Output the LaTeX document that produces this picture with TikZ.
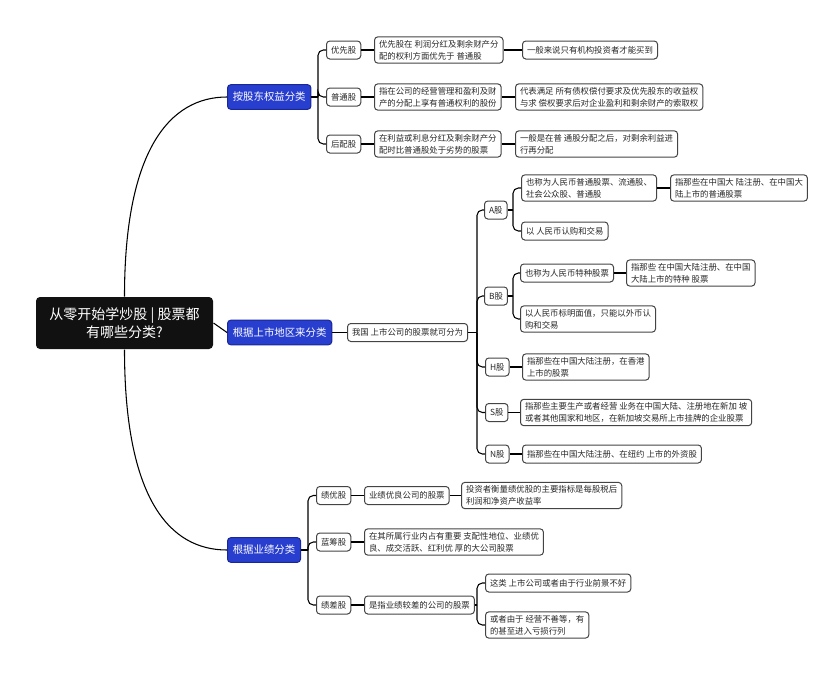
\documentclass[tikz,border=0pt]{standalone}
\usepackage{fontspec}
\setmainfont{Noto Sans CJK SC}

\tikzset{every picture/.style={line width=0.75pt}}
\tikzset{
  leaf/.style={draw={rgb, 255:red, 68; green, 68; blue, 68}, rounded corners=2.5pt, fill=white,
    text={rgb, 255:red, 40; green, 40; blue, 40}, font=\fontsize{6.3}{9}\selectfont,
    inner xsep=3.4pt, inner ysep=2.4pt, minimum height=13.5pt, align=left, anchor=west},
  topic/.style={draw={rgb, 255:red, 25; green, 40; blue, 150}, fill={rgb, 255:red, 40; green, 62; blue, 206},
    rounded corners=2.5pt, text=white, font=\fontsize{7.8}{9}\selectfont,
    inner xsep=4pt, minimum height=18.5pt, anchor=west},
  rootbox/.style={fill={rgb, 255:red, 17; green, 17; blue, 17}, rounded corners=3pt, text=white,
    font=\fontsize{10.5}{14}\selectfont, align=center, minimum width=132.75pt, minimum height=39pt},
  link/.style={draw=black, line width=0.8pt, rounded corners=4pt},
}

\begin{document}
\begin{tikzpicture}[x=0.75pt,y=0.75pt,yscale=-1,xscale=1]
\path[use as bounding box] (0,0) rectangle (840,675);

% Root
\draw (124.5,323) node [rootbox] (root) {从零开始学炒股 | 股票都\\有哪些分类?};

% Text Node
\draw (227,97) node [topic] (g1) {按股东权益分类};
% Text Node
\draw (227,332.5) node [topic] (g2) {根据上市地区来分类};
% Text Node
\draw (227,550) node [topic] (g3) {根据业绩分类};

% Text Node
\draw (326,50) node [leaf] (p1) {优先股};
\draw (374,50) node [leaf] (p1d) {优先股在 利润分红及剩余财产分\\配的权利方面优先于 普通股};
\draw (522,50) node [leaf] (p1e) {一般来说只有机构投资者才能买到};
% Text Node
\draw (326,97) node [leaf] (p2) {普通股};
\draw (374,97) node [leaf] (p2d) {指在公司的经营管理和盈利及财\\产的分配上享有普通权利的股份};
\draw (515,97) node [leaf] (p2e) {代表满足 所有债权偿付要求及优先股东的收益权\\与求 偿权要求后对企业盈利和剩余财产的索取权};
% Text Node
\draw (326,144) node [leaf] (p3) {后配股};
\draw (374,144) node [leaf] (p3d) {在利益或利息分红及剩余财产分\\配时比普通股处于劣势的股票};
\draw (515,144) node [leaf] (p3e) {一般是在普 通股分配之后，对剩余利益进\\行再分配};

% Text Node
\draw (347,332.5) node [leaf] (r0) {我国 上市公司的股票就可分为};
\draw (484,210) node [leaf] (ra) {A股};
\draw (484,296) node [leaf] (rb) {B股};
\draw (485,367) node [leaf] (rh) {H股};
\draw (485,412.5) node [leaf] (rs) {S股};
\draw (485,454) node [leaf] (rn) {N股};
% Text Node
\draw (521,188) node [leaf] (ra1) {也称为人民币普通股票、流通股、\\社会公众股、普通股};
\draw (670,188) node [leaf] (ra1x) {指那些在中国大 陆注册、在中国大\\陆上市的普通股票};
\draw (521,231) node [leaf] (ra2) {以 人民币认购和交易};
% Text Node
\draw (520,273) node [leaf] (rb1) {也称为人民币特种股票};
\draw (626,273) node [leaf] (rb1x) {指那些 在中国大陆注册、在中国\\大陆上市的特种 股票};
\draw (520,319) node [leaf] (rb2) {以人民币标明面值，只能以外币认\\购和交易};
% Text Node
\draw (522,367) node [leaf] (rh1) {指那些在中国大陆注册，在香港\\上市的股票};
\draw (520,412.5) node [leaf] (rs1) {指那些主要生产或者经营 业务在中国大陆、注册地在新加 坡\\或者其他国家和地区，在新加坡交易所上市挂牌的企业股票};
\draw (522,454) node [leaf] (rn1) {指那些在中国大陆注册、在纽约 上市的外资股};

% Text Node
\draw (316,495.5) node [leaf] (j1) {绩优股};
\draw (364,495.5) node [leaf] (j1a) {业绩优良公司的股票};
\draw (461,495.5) node [leaf] (j1b) {投资者衡量绩优股的主要指标是每股税后\\利润和净资产收益率};
% Text Node
\draw (316,542) node [leaf] (j2) {蓝筹股};
\draw (364,542) node [leaf] (j2a) {在其所属行业内占有重要 支配性地位、业绩优\\良、成交活跃、红利优 厚的大公司股票};
% Text Node
\draw (316,605) node [leaf] (j3) {绩差股};
\draw (364,605) node [leaf] (j3a) {是指业绩较差的公司的股票};
\draw (485,583) node [leaf] (j3b) {这类 上市公司或者由于行业前景不好};
\draw (485,625) node [leaf] (j3c) {或者由于 经营不善等，有\\的甚至进入亏损行列};

% Spine points
\coordinate (s1) at (318,97);
\coordinate (s2) at (477,332.5);
\coordinate (s3) at (513,210);
\coordinate (s4) at (513,296);
\coordinate (s5) at (308,550);
\coordinate (s6) at (477,605);

% Root links
\draw [link] (root.north) .. controls +(0,-147) and +(-57,0) .. (g1.west);
\draw [link] (root.south) .. controls +(0,150) and +(-57,0) .. (g3.west);
\draw [link] (root.east) -- (g2.west);

% Branch links
\draw [link] (g1.east) -- (s1);
\foreach \c in {p1,p2,p3} \draw [link] (s1) |- (\c.west);
\draw [link] (p1.east) -- (p1d.west);
\draw [link] (p1d.east) -- (p1e.west);
\draw [link] (p2.east) -- (p2d.west);
\draw [link] (p2d.east) -- (p2e.west);
\draw [link] (p3.east) -- (p3d.west);
\draw [link] (p3d.east) -- (p3e.west);

\draw [link] (g2.east) -- (r0.west);
\draw [link] (r0.east) -- (s2);
\foreach \c in {ra,rb,rh,rs,rn} \draw [link] (s2) |- (\c.west);
\draw [link] (ra.east) -- (s3);
\foreach \c in {ra1,ra2} \draw [link] (s3) |- (\c.west);
\draw [link] (ra1.east) -- (ra1x.west);
\draw [link] (rb.east) -- (s4);
\foreach \c in {rb1,rb2} \draw [link] (s4) |- (\c.west);
\draw [link] (rb1.east) -- (rb1x.west);
\draw [link] (rh.east) -- (rh1.west);
\draw [link] (rs.east) -- (rs1.west);
\draw [link] (rn.east) -- (rn1.west);

\draw [link] (g3.east) -- (s5);
\foreach \c in {j1,j2,j3} \draw [link] (s5) |- (\c.west);
\draw [link] (j1.east) -- (j1a.west);
\draw [link] (j1a.east) -- (j1b.west);
\draw [link] (j2.east) -- (j2a.west);
\draw [link] (j3.east) -- (j3a.west);
\draw [link] (j3a.east) -- (s6);
\foreach \c in {j3b,j3c} \draw [link] (s6) |- (\c.west);
\end{tikzpicture}
\end{document}
